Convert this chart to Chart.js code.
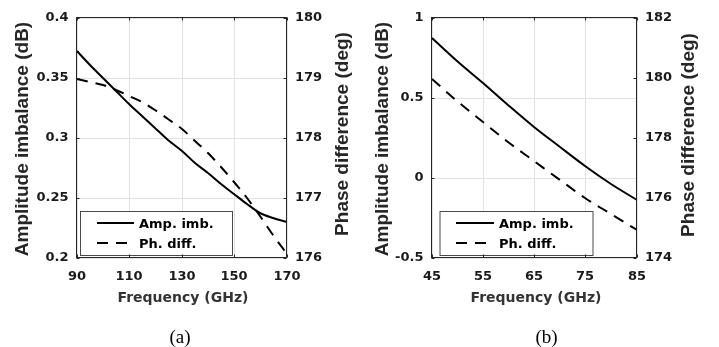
<!DOCTYPE html>
<html>
<head>
<meta charset="utf-8">
<script src="https://cdn.jsdelivr.net/npm/chart.js@4.4.0/dist/chart.umd.min.js"></script>
<style>
html,body{margin:0;padding:0;background:#fff;}
#wrap{position:relative;width:719px;height:347px;overflow:hidden;background:#fff;}
canvas{position:absolute;top:0;}
</style>
</head>
<body>
<div id="wrap">
<canvas id="ca" width="360" height="347" style="left:0px"></canvas>
<canvas id="cb" width="359" height="347" style="left:360px"></canvas>
</div>
<script>
// ---- data ----
const freqA  = [90, 95, 100, 105, 110, 115, 120, 125, 130, 135, 140, 145, 150, 155, 160, 165, 170];
const ampA   = [0.372, 0.3606, 0.3495, 0.3386, 0.3280, 0.3177, 0.3077, 0.2979, 0.2884, 0.2791, 0.2702, 0.2615, 0.2530, 0.2449, 0.2370, 0.2330, 0.2295];
const phaseA = [178.98, 178.93, 178.87, 178.79, 178.70, 178.59, 178.46, 178.31, 178.14, 177.95, 177.74, 177.51, 177.26, 176.99, 176.69, 176.38, 176.05];

const freqB  = [45, 50, 55, 60, 65, 70, 75, 80, 85];
const ampB   = [0.874, 0.729, 0.590, 0.452, 0.318, 0.190, 0.070, -0.040, -0.143];
const phaseB = [179.94, 179.22, 178.53, 177.86, 177.21, 176.59, 176.00, 175.44, 174.91];

const xTicksA = [90, 110, 130, 150, 170];
const ampTicksA = [0.2, 0.25, 0.3, 0.35, 0.4];
const ampTickLabelsA = ['0.2', '0.25', '0.3', '0.35', '0.4'];
const phaseTicksA = [176, 177, 178, 179, 180];

const xTicksB = [45, 55, 65, 75, 85];
const ampTicksB = [-0.5, 0, 0.5, 1];
const ampTickLabelsB = ['-0.5', '0', '0.5', '1'];
const phaseTicksB = [174, 176, 178, 180, 182];

const seriesNames = ['Amp. imb.', 'Ph. diff.'];
const xTitle = 'Frequency (GHz)';
const ampTitle = 'Amplitude imbalance (dB)';
const phaseTitle = 'Phase difference (deg)';
const captions = ['(a)', '(b)'];

// ---- drawing ----
const TICK_FONT = {family: 'DejaVu Sans', weight: 'bold', size: 13};
const TXT = '#1a1a1a';

function build(id, d, L) {
  const H = 347;
  const deco = {
    id: 'deco_' + id,
    afterDatasetsDraw(chart) {
      const ctx = chart.ctx;
      const lg = L.legend;
      ctx.save();
      ctx.fillStyle = '#fff';
      ctx.fillRect(lg.x, lg.y, lg.w, lg.h);
      ctx.strokeStyle = '#4a4a4a';
      ctx.lineWidth = 1;
      ctx.strokeRect(lg.x + 0.5, lg.y + 0.5, lg.w, lg.h);
      chart.data.datasets.forEach((ds, i) => {
        const y = lg.rows[i];
        ctx.strokeStyle = ds.borderColor;
        ctx.lineWidth = ds.borderWidth;
        ctx.lineCap = 'butt';
        ctx.setLineDash(ds.borderDash || []);
        ctx.beginPath();
        ctx.moveTo(lg.l0, y);
        ctx.lineTo(lg.l1, y);
        ctx.stroke();
        ctx.setLineDash([]);
        ctx.fillStyle = '#000';
        ctx.font = 'bold 13px "DejaVu Sans"';
        ctx.textAlign = 'left';
        ctx.textBaseline = 'alphabetic';
        ctx.fillText(ds.label, lg.tx, y + 4.7);
      });
      ctx.restore();
    },
    afterDraw(chart) {
      const ctx = chart.ctx, ca = chart.chartArea;
      const sx = chart.scales.x, sy = chart.scales.y, sy1 = chart.scales.y1;
      ctx.save();
      // inward tick marks
      ctx.strokeStyle = '#262626';
      ctx.lineWidth = 1;
      ctx.beginPath();
      d.xTicks.forEach(v => {
        const p = Math.round(sx.getPixelForValue(v)) + 0.5;
        ctx.moveTo(p, ca.bottom); ctx.lineTo(p, ca.bottom - 3);
        ctx.moveTo(p, ca.top); ctx.lineTo(p, ca.top + 3);
      });
      d.ampTicks.forEach(v => {
        const p = Math.round(sy.getPixelForValue(v)) + 0.5;
        ctx.moveTo(ca.left, p); ctx.lineTo(ca.left + 3, p);
      });
      d.phaseTicks.forEach(v => {
        const p = Math.round(sy1.getPixelForValue(v)) + 0.5;
        ctx.moveTo(ca.right, p); ctx.lineTo(ca.right - 3, p);
      });
      ctx.stroke();
      // frame
      ctx.strokeStyle = '#262626';
      ctx.strokeRect(ca.left, ca.top, ca.right - ca.left, ca.bottom - ca.top);
      // axis titles
      ctx.fillStyle = '#262626';
      ctx.textAlign = 'center';
      ctx.textBaseline = 'alphabetic';
      ctx.font = 'bold 19px "Liberation Sans"';
      ctx.save();
      ctx.translate(L.leftTitleX, L.leftTitleY);
      ctx.rotate(-Math.PI / 2);
      ctx.fillText(ampTitle, 0, 0);
      ctx.restore();
      ctx.save();
      ctx.translate(L.rightTitleX, L.rightTitleY);
      ctx.rotate(-Math.PI / 2);
      ctx.fillText(phaseTitle, 0, 0);
      ctx.restore();
      ctx.font = 'bold 14px "DejaVu Sans"';
      ctx.fillStyle = '#333';
      ctx.fillText(xTitle, L.xTitleX, L.xTitleY);
      // caption
      ctx.fillStyle = '#000';
      ctx.font = '19px "Liberation Serif"';
      ctx.fillText(d.caption, L.capX, 343);
      ctx.restore();
    }
  };

  const pts = (xs, ys) => xs.map((x, i) => ({x: x, y: ys[i]}));

  return new Chart(document.getElementById(id), {
    type: 'line',
    data: {
      datasets: [
        {label: seriesNames[0], data: pts(d.freq, d.amp), yAxisID: 'y',
         borderColor: '#000', borderWidth: 2, borderDash: [], pointRadius: 0,
         cubicInterpolationMode: 'monotone', borderJoinStyle: 'round', fill: false},
        {label: seriesNames[1], data: pts(d.freq, d.phase), yAxisID: 'y1',
         borderColor: '#000', borderWidth: 2, borderDash: [11, 8], pointRadius: 0,
         cubicInterpolationMode: 'monotone', borderJoinStyle: 'round', fill: false}
      ]
    },
    options: {
      responsive: false,
      animation: false,
      devicePixelRatio: 1,
      layout: {padding: {top: L.top, left: 0, right: 0, bottom: 0}},
      plugins: {legend: {display: false}, tooltip: {enabled: false}},
      scales: {
        x: {
          type: 'linear', position: 'bottom', alignToPixels: true,
          min: d.xTicks[0], max: d.xTicks[d.xTicks.length - 1],
          afterBuildTicks: s => { s.ticks = d.xTicks.map(v => ({value: v})); },
          afterFit: s => { s.height = H - L.bottom; },
          grid: {color: '#e2e2e2', lineWidth: 1, drawTicks: false},
          border: {display: false},
          ticks: {padding: 11, color: TXT, font: TICK_FONT, maxRotation: 0, autoSkip: false,
                  callback: v => String(v)}
        },
        y: {
          type: 'linear', position: 'left', alignToPixels: true,
          min: d.ampTicks[0], max: d.ampTicks[d.ampTicks.length - 1],
          afterBuildTicks: s => { s.ticks = d.ampTicks.map(v => ({value: v})); },
          afterFit: s => { s.width = L.left; },
          grid: {color: '#e2e2e2', lineWidth: 1, drawTicks: false},
          border: {display: false},
          ticks: {padding: 8, color: TXT, font: TICK_FONT, autoSkip: false,
                  callback: (v, i) => d.ampLabels[i]}
        },
        y1: {
          type: 'linear', position: 'right', alignToPixels: true,
          min: d.phaseTicks[0], max: d.phaseTicks[d.phaseTicks.length - 1],
          afterBuildTicks: s => { s.ticks = d.phaseTicks.map(v => ({value: v})); },
          afterFit: s => { s.width = L.width - L.right; },
          grid: {display: false, drawTicks: false},
          border: {display: false},
          ticks: {padding: 8.5, color: TXT, font: TICK_FONT, autoSkip: false,
                  callback: v => String(v)}
        }
      }
    },
    plugins: [deco]
  });
}

build('ca',
  {freq: freqA, amp: ampA, phase: phaseA, xTicks: xTicksA, ampTicks: ampTicksA,
   ampLabels: ampTickLabelsA, phaseTicks: phaseTicksA, caption: captions[0]},
  {width: 360, left: 76.5, right: 286.5, top: 17.5, bottom: 257.5,
   leftTitleX: 28, leftTitleY: 139, rightTitleX: 348, rightTitleY: 134,
   xTitleX: 183, xTitleY: 301.5, capX: 180,
   legend: {x: 80, y: 211, w: 152, h: 44, rows: [223, 243], l0: 97, l1: 134, tx: 139}});

build('cb',
  {freq: freqB, amp: ampB, phase: phaseB, xTicks: xTicksB, ampTicks: ampTicksB,
   ampLabels: ampTickLabelsB, phaseTicks: phaseTicksB, caption: captions[1]},
  {width: 359, left: 71.5, right: 276.5, top: 17.5, bottom: 257.5,
   leftTitleX: 28, leftTitleY: 139, rightTitleX: 334, rightTitleY: 135,
   xTitleX: 176, xTitleY: 301.5, capX: 186.5,
   legend: {x: 79.5, y: 211, w: 153, h: 44, rows: [223, 243], l0: 96, l1: 134, tx: 139}});
</script>
</body>
</html>
